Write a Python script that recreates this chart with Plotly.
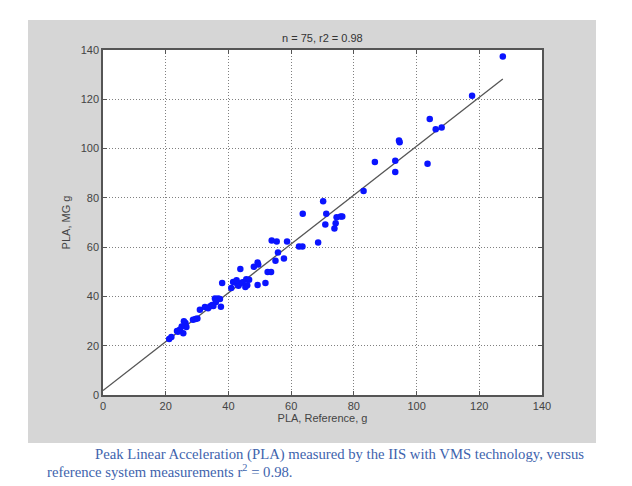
import plotly.graph_objects as go

# --- data ---
pla_reference = [127.5, 117.7, 104.2, 106.1, 108.0, 94.4, 94.6, 93.2, 86.7, 103.5,
                 93.2, 83.1, 70.2, 63.7, 71.2, 74.5, 75.8, 76.3, 70.9, 74.2,
                 73.8, 68.6, 62.5, 63.6, 53.8, 55.4, 58.7, 55.8, 55.0, 57.7,
                 43.8, 49.3, 49.5, 48.1, 52.5, 53.6, 51.8, 49.3, 38.0, 40.9,
                 41.5, 42.3, 42.8, 43.2, 43.7, 42.6, 45.4, 46.0, 45.7, 46.6,
                 44.5, 37.6, 35.7, 36.7, 37.3, 36.0, 34.2, 34.8, 35.2, 32.5,
                 30.9, 33.5, 28.7, 29.5, 30.1, 26.3, 25.8, 26.6, 25.1, 24.5,
                 25.6, 23.6, 23.9, 21.8, 21.1]
pla_mg = [137.4, 121.4, 112.0, 107.8, 108.6, 103.3, 102.6, 95.1, 94.6, 93.8,
          90.5, 82.8, 78.6, 73.6, 73.6, 72.1, 72.4, 72.4, 69.2, 69.7,
          67.6, 61.9, 60.3, 60.3, 62.7, 62.3, 62.3, 57.8, 54.5, 55.4,
          51.1, 53.8, 53.0, 52.0, 49.9, 49.9, 45.4, 44.6, 45.5, 43.4,
          45.9, 46.0, 45.0, 44.3, 45.2, 46.6, 43.8, 44.5, 47.0, 46.8,
          45.8, 35.8, 39.2, 39.2, 39.0, 37.7, 36.0, 36.5, 36.1, 35.7,
          34.6, 35.2, 30.5, 30.8, 31.0, 29.2, 29.9, 27.6, 27.8, 26.5,
          25.1, 26.0, 25.7, 23.5, 22.7]
fit_x = [0.0, 127.5]
fit_y = [1.8, 128.2]
axis_ticks = [0, 20, 40, 60, 80, 100, 120, 140]

title_text = "n = 75, r2 = 0.98"
caption_1 = "Peak Linear Acceleration (PLA) measured by the IIS with VMS technology, versus"
caption_2 = "reference system measurements r<sup>2</sup> = 0.98."

W, H = 632, 486
L, R, T, B = 103, 90, 50, 91
pw, ph = W - L - R, H - T - B

def px(X):
    return (X - L) / pw

def py(Y):
    return (H - B - Y) / ph

fig = go.Figure()
fig.add_trace(go.Scatter(x=fit_x, y=fit_y, mode="lines",
                         line=dict(color="#555555", width=1.3), hoverinfo="skip"))
fig.add_trace(go.Scatter(x=pla_reference, y=pla_mg, mode="markers",
                         marker=dict(color="#0a14ff", size=6.5, line=dict(width=0))))

label_font = dict(family="Liberation Sans Narrow, Arial", size=11, color="#444444")
axis_common = dict(range=[0, 140], tickvals=axis_ticks, showgrid=True,
                   gridcolor="#808080", griddash="1px,2px", gridwidth=1,
                   showline=True, linecolor="#555555", linewidth=1.5, mirror="allticks",
                   ticks="inside", ticklen=4, tickcolor="#555555", zeroline=False,
                   tickfont=label_font)

fig.update_xaxes(**axis_common, title=dict(text="PLA, Reference, g", standoff=3, font=label_font))
fig.update_yaxes(**axis_common, title=dict(text="PLA, MG g", standoff=8, font=label_font))

fig.add_shape(type="rect", xref="paper", yref="paper", layer="below",
              x0=px(28), x1=px(596), y0=py(443), y1=py(20),
              fillcolor="#d6d6d6", line=dict(width=0))
fig.add_shape(type="rect", xref="paper", yref="paper", layer="below",
              x0=0, x1=1, y0=0, y1=1, fillcolor="white", line=dict(width=0))

fig.add_annotation(text=title_text, xref="paper", yref="paper", x=0.5, y=py(38),
                   showarrow=False, xanchor="center", yanchor="middle",
                   font=dict(family="Liberation Sans Narrow, Arial", size=11, color="#333333"))
caption_font = dict(family="Liberation Serif", size=14.7, color="#4063ad")
fig.add_annotation(text=caption_1, xref="paper", yref="paper", x=px(93), y=py(455),
                   showarrow=False, xanchor="left", yanchor="middle", font=caption_font)
fig.add_annotation(text=caption_2, xref="paper", yref="paper", x=px(45), y=py(471),
                   showarrow=False, xanchor="left", yanchor="middle", font=caption_font)

fig.update_layout(width=W, height=H, margin=dict(l=L, r=R, t=T, b=B),
                  paper_bgcolor="white", plot_bgcolor="white", showlegend=False)

fig.write_html("out.html")
